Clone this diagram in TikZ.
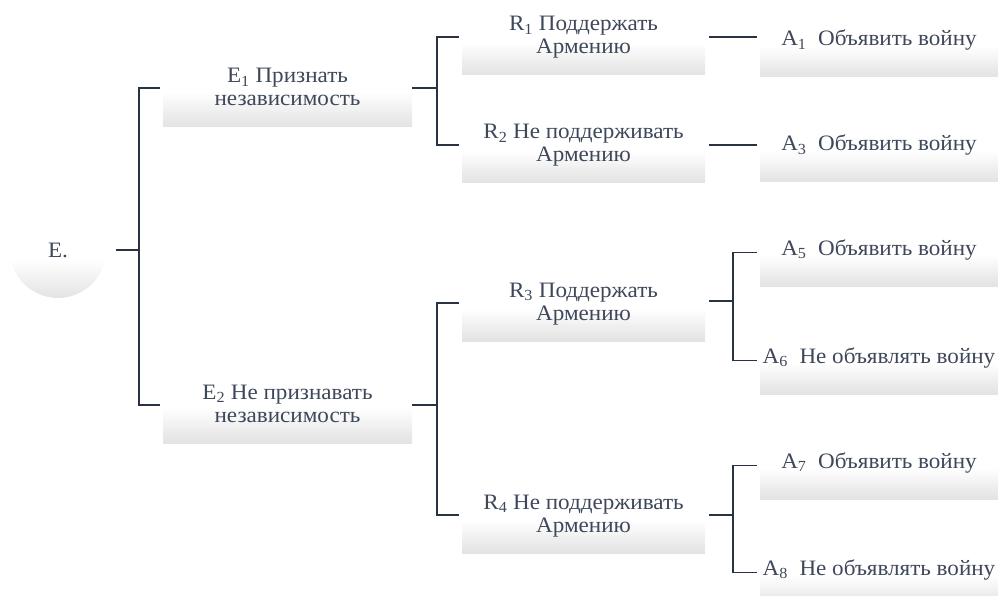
\documentclass[tikz,border=0pt]{standalone}
\usepackage{fontspec}
\setmainfont[FakeStretch=1.05]{Liberation Serif}
\usepackage{tikz}

\definecolor{txt}{RGB}{62,72,90}
\definecolor{ln}{RGB}{40,50,66}
\pgfdeclareverticalshading{boxshade}{100bp}{color(0bp)=(gray!22); color(25bp)=(gray!22); color(32bp)=(gray!17); color(52bp)=(white); color(100bp)=(white)}
\pgfdeclareverticalshading{rootshade}{100bp}{color(0bp)=(gray!22); color(25bp)=(gray!22); color(45bp)=(white); color(100bp)=(white)}

\begin{document}
\begin{tikzpicture}[x=1pt, y=-1pt,
        font=\fontsize{22}{23}\selectfont, text=txt,
        root/.style = {circle, minimum size=96pt, inner sep=0pt, shading=rootshade},
        box/.style = {rectangle, inner sep=0pt, align=center, shading=boxshade, anchor=base},
        ebox/.style = {box, minimum width=249pt, text height=44pt, text depth=21pt},
        rbox/.style = {box, minimum width=243pt, text height=39pt, text depth=21pt},
        abox/.style = {box, minimum width=238pt, text height=26pt, text depth=31pt},
        stem/.style = {draw=ln, line width=2pt},
        fork/.style = {draw=ln, line width=1.3pt, shorten <=3pt, shorten >=3pt},
        link/.style = {draw=ln, line width=1.3pt, shorten <=4pt, shorten >=3pt}]
        \useasboundingbox (0,0) rectangle (998,596);

        \node[root] (e) at (58,250) {E.};
        \node[ebox] (e1) at (287.5,106) {E\textsubscript{1} Признать\\независимость};
        \node[ebox] (e2) at (287.5,422) {E\textsubscript{2} Не признавать\\независимость};
        \node[rbox] (r1) at (583.5,54) {R\textsubscript{1} Поддержать\\Армению};
        \node[rbox] (r2) at (583.5,162) {R\textsubscript{2} Не поддерживать\\Армению};
        \node[rbox] (r3) at (583.5,320) {R\textsubscript{3} Поддержать\\Армению};
        \node[rbox] (r4) at (583.5,532) {R\textsubscript{4} Не поддерживать\\Армению};
        \node[abox] (a1) at (879,46) {A\textsubscript{1}\ \ Объявить войну};
        \node[abox] (a3) at (879,151) {A\textsubscript{3}\ \ Объявить войну};
        \node[abox] (a5) at (879,255) {A\textsubscript{5}\ \ Объявить войну};
        \node[abox] (a6) at (879,363) {A\textsubscript{6}\ \ Не объявлять войну};
        \node[abox] (a7) at (879,468) {A\textsubscript{7}\ \ Объявить войну};
        \node[abox] (a8) at (879,575) {A\textsubscript{8}\ \ Не объявлять войну};

        \coordinate (j0) at (139,249);
        \coordinate (j1) at (437,88);
        \coordinate (j2) at (437,405);
        \coordinate (j3) at (733,301);
        \coordinate (j4) at (733,515);

        % stems
        \draw[stem, shorten <=10pt] (e.east) -- (e.east -| j0);
        \draw[stem] (e1.east |- j1) -- (j1);
        \draw[stem] (e2.east |- j2) -- (j2);
        \draw[stem, shorten <=4pt] (r3.east |- j3) -- (j3);
        \draw[stem, shorten <=4pt] (r4.east |- j4) -- (j4);

        % forks
        \draw[fork] (e1.west |- j1) -| (j0) |- (e2.west |- j2);
        \draw[fork] ([yshift=8pt]r1.west) -| (j1) |- ([yshift=8pt]r2.west);
        \draw[fork] ([yshift=8pt]r3.west) -| (j2) |- ([yshift=8pt]r4.west);
        \draw[fork] (a5.mid west) -| (j3) |- (a6.mid west);
        \draw[fork] (a7.mid west) -| (j4) |- (a8.mid west);

        % single links
        \draw[link] ([yshift=8pt]r1.east) -- ([yshift=8pt]r1.east -| a1.west);
        \draw[link] ([yshift=8pt]r2.east) -- ([yshift=8pt]r2.east -| a3.west);
\end{tikzpicture}
\end{document}
